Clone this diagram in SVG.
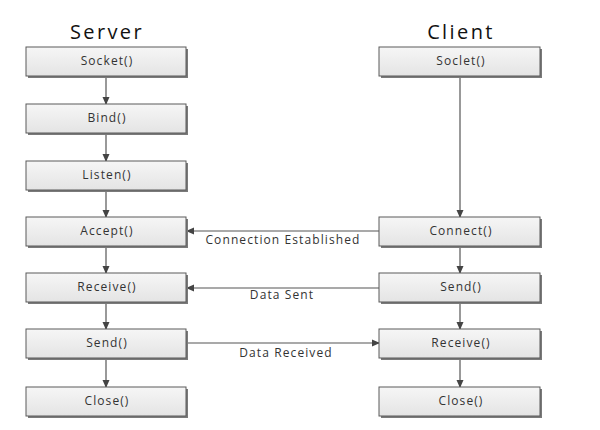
<svg xmlns="http://www.w3.org/2000/svg" width="600" height="430" viewBox="0 0 600 430">
<style>
.box{fill:url(#g);stroke:#5a5a5a;stroke-width:1}
.sh{fill:#7a7a7a}
.t{font-family:"Open Sans","Liberation Sans",sans-serif;font-size:12px;letter-spacing:1.1px;fill:#333;text-anchor:middle}
.h{font-family:"Open Sans","Liberation Sans",sans-serif;font-size:20px;letter-spacing:2.4px;fill:#111;text-anchor:middle}
.c{stroke:#555;stroke-width:1.2;fill:none;marker-end:url(#a)}
</style>
<defs>
<linearGradient id="g" x1="0" y1="0" x2="0" y2="1">
<stop offset="0" stop-color="#f6f6f6"/><stop offset="1" stop-color="#e4e4e4"/>
</linearGradient>
<marker id="a" markerWidth="8" markerHeight="8" refX="7" refY="4" orient="auto" markerUnits="userSpaceOnUse">
<path d="M0,0.5 L8,4 L0,7.5 Z" fill="#444"/>
</marker>
</defs>
<rect width="600" height="430" fill="#fff"/>
<text class="h" x="107" y="39">Server</text>
<text class="h" x="461" y="39">Client</text>
<g id="connectors">
<line class="c" x1="106" y1="76" x2="106" y2="104"/>
<line class="c" x1="106" y1="133" x2="106" y2="161"/>
<line class="c" x1="106" y1="190" x2="106" y2="217"/>
<line class="c" x1="106" y1="246" x2="106" y2="273"/>
<line class="c" x1="106" y1="302" x2="106" y2="329"/>
<line class="c" x1="106" y1="358" x2="106" y2="387"/>
<line class="c" x1="460" y1="76" x2="460" y2="217"/>
<line class="c" x1="460" y1="246" x2="460" y2="273"/>
<line class="c" x1="460" y1="302" x2="460" y2="329"/>
<line class="c" x1="460" y1="358" x2="460" y2="387"/>
<line class="c" x1="379" y1="231" x2="187" y2="231"/>
<line class="c" x1="379" y1="288" x2="187" y2="288"/>
<line class="c" x1="187" y1="343" x2="379" y2="343"/>
<text class="t" x="283" y="244">Connection Established</text>
<text class="t" x="282" y="299">Data Sent</text>
<text class="t" x="286" y="357">Data Received</text>
</g>
<g id="s_socket"><rect class="sh" x="28" y="49" width="160" height="29"/><rect class="box" x="26" y="47" width="160" height="29"/><text class="t" x="107" y="65">Socket()</text></g>
<g id="s_bind"><rect class="sh" x="28" y="106" width="160" height="29"/><rect class="box" x="26" y="104" width="160" height="29"/><text class="t" x="107" y="122">Bind()</text></g>
<g id="s_listen"><rect class="sh" x="28" y="163" width="160" height="29"/><rect class="box" x="26" y="161" width="160" height="29"/><text class="t" x="107" y="179">Listen()</text></g>
<g id="s_accept"><rect class="sh" x="28" y="219" width="160" height="29"/><rect class="box" x="26" y="217" width="160" height="29"/><text class="t" x="107" y="235">Accept()</text></g>
<g id="s_receive"><rect class="sh" x="28" y="275" width="160" height="29"/><rect class="box" x="26" y="273" width="160" height="29"/><text class="t" x="107" y="291">Receive()</text></g>
<g id="s_send"><rect class="sh" x="28" y="331" width="160" height="29"/><rect class="box" x="26" y="329" width="160" height="29"/><text class="t" x="107" y="347">Send()</text></g>
<g id="s_close"><rect class="sh" x="28" y="389" width="160" height="29"/><rect class="box" x="26" y="387" width="160" height="29"/><text class="t" x="107" y="405">Close()</text></g>
<g id="c_socket"><rect class="sh" x="381" y="49" width="161" height="29"/><rect class="box" x="379" y="47" width="161" height="29"/><text class="t" x="461" y="65">Soclet()</text></g>
<g id="c_connect"><rect class="sh" x="381" y="219" width="161" height="29"/><rect class="box" x="379" y="217" width="161" height="29"/><text class="t" x="461" y="235">Connect()</text></g>
<g id="c_send"><rect class="sh" x="381" y="275" width="161" height="29"/><rect class="box" x="379" y="273" width="161" height="29"/><text class="t" x="461" y="291">Send()</text></g>
<g id="c_receive"><rect class="sh" x="381" y="331" width="161" height="29"/><rect class="box" x="379" y="329" width="161" height="29"/><text class="t" x="461" y="347">Receive()</text></g>
<g id="c_close"><rect class="sh" x="381" y="389" width="161" height="29"/><rect class="box" x="379" y="387" width="161" height="29"/><text class="t" x="461" y="405">Close()</text></g>
</svg>
